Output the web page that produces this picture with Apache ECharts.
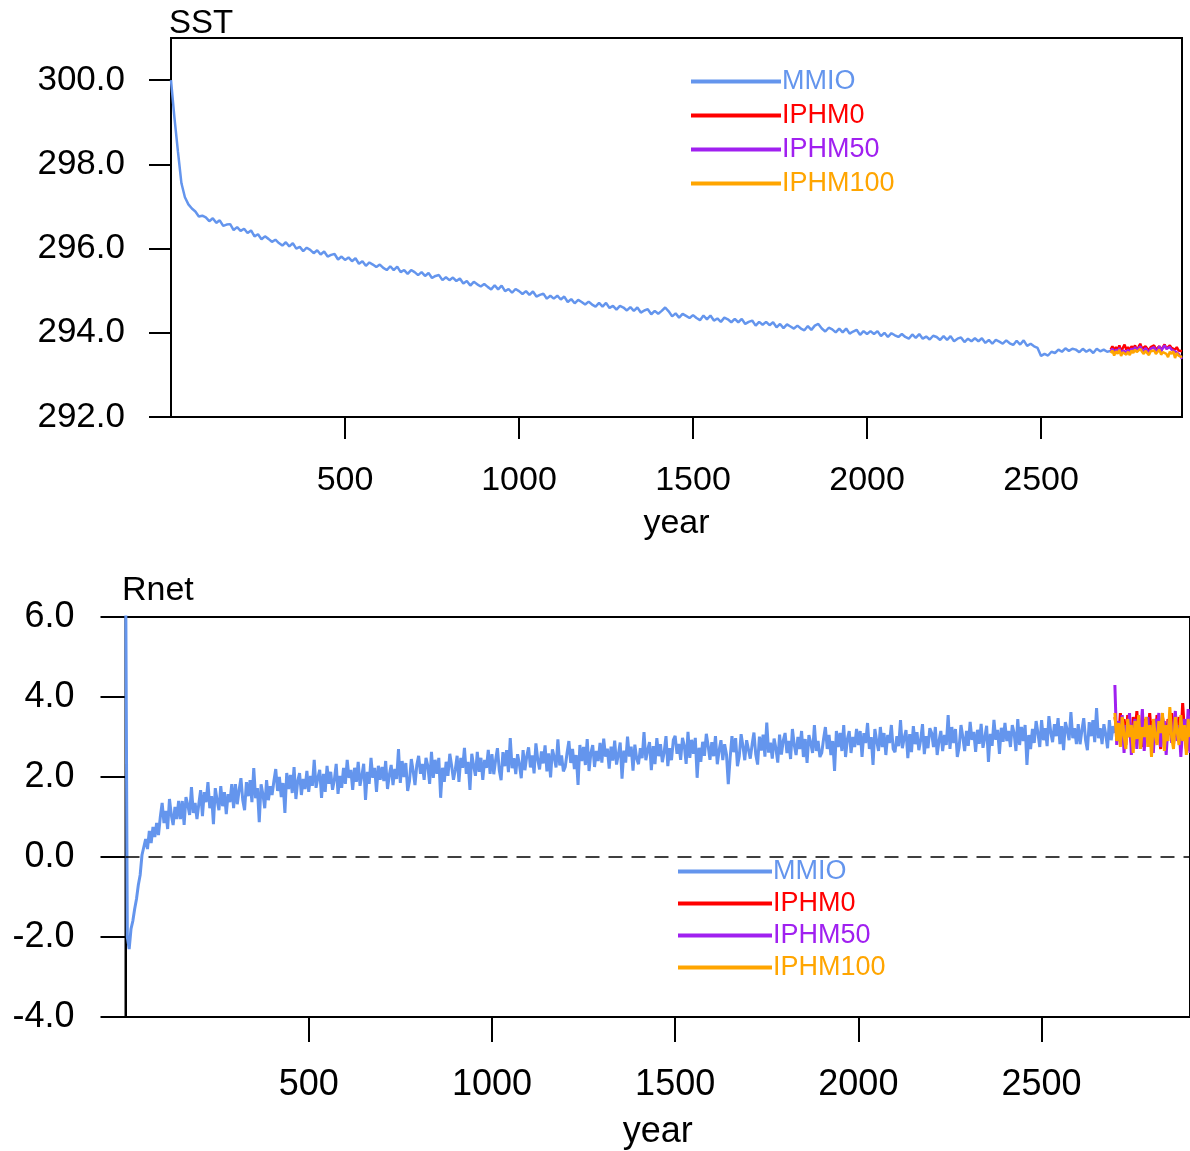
<!DOCTYPE html>
<html>
<head>
<meta charset="utf-8">
<script src="https://cdn.jsdelivr.net/npm/echarts@6/dist/echarts.min.js"></script>
<style>
html,body{margin:0;padding:0;background:#fff;}
#c{width:1190px;height:1151px;}
</style>
</head>
<body>
<div id="c"></div>
<script>
// ---------------- DATA ----------------
const seriesNames = ['MMIO', 'IPHM0', 'IPHM50', 'IPHM100'];
const yearTicks = [500, 1000, 1500, 2000, 2500];
const sstTicks = [292, 294, 296, 298, 300];
const rnetTicks = [-4, -2, 0, 2, 4, 6];

// SST, MMIO: one value every 10 years, year 0 .. 2700
const sstStep = 10;
const sstMMIO = [
300.0,299.1,298.3,297.55,297.22,297.05,296.95,296.88,296.76,296.78,
296.74,296.65,296.72,296.61,296.67,296.54,296.57,296.58,296.44,296.51,
296.42,296.47,296.37,296.43,296.29,296.34,296.22,296.29,296.23,296.16,
296.21,296.13,296.07,296.15,296.05,296.13,296.0,296.04,295.94,296.02,
295.97,295.89,295.96,295.86,295.93,295.81,295.85,295.87,295.74,295.81,
295.73,295.79,295.7,295.77,295.64,295.7,295.59,295.67,295.62,295.56,
295.62,295.54,295.49,295.58,295.49,295.57,295.44,295.49,295.4,295.49,
295.44,295.37,295.44,295.35,295.42,295.3,295.35,295.37,295.25,295.32,
295.25,295.31,295.23,295.29,295.17,295.23,295.12,295.21,295.15,295.1,
295.16,295.09,295.03,295.13,295.03,295.12,294.99,295.04,294.95,295.04,
294.99,294.92,294.99,294.9,294.98,294.86,294.9,294.93,294.81,294.88,
294.81,294.88,294.79,294.86,294.73,294.8,294.7,294.78,294.73,294.67,
294.74,294.67,294.62,294.71,294.62,294.71,294.59,294.64,294.55,294.64,
294.6,294.53,294.61,294.52,294.6,294.48,294.53,294.56,294.44,294.52,
294.45,294.52,294.6,294.51,294.39,294.46,294.36,294.45,294.4,294.35,
294.42,294.35,294.3,294.41,294.32,294.41,294.29,294.34,294.26,294.36,
294.32,294.25,294.33,294.25,294.33,294.21,294.26,294.29,294.17,294.26,
294.19,294.26,294.18,294.25,294.13,294.21,294.11,294.2,294.15,294.1,
294.17,294.1,294.06,294.16,294.07,294.17,294.21,294.1,294.03,294.12,
294.08,294.01,294.1,294.01,294.1,293.98,294.03,294.07,293.95,294.04,
293.97,294.04,293.97,294.04,293.92,294.0,293.9,293.99,293.94,293.9,
293.97,293.9,293.86,293.96,293.88,293.97,293.86,293.91,293.84,293.93,
293.9,293.83,293.92,293.83,293.92,293.8,293.86,293.89,293.78,293.86,
293.8,293.87,293.8,293.87,293.76,293.83,293.74,293.83,293.79,293.74,
293.82,293.75,293.71,293.81,293.72,293.82,293.69,293.74,293.68,293.64,
293.45,293.5,293.46,293.55,293.52,293.6,293.55,293.63,293.57,293.62,
293.6,293.54,293.62,293.55,293.6,293.52,293.62,293.56,293.6,293.55,
293.57
];

// Experiments: one value every 5 years, year 2700 .. 2905
const iphmStart = 2700;
const iphmStep = 5;
const sstIPHM0 = [293.6,293.68,293.58,293.66,293.6,293.7,293.56,293.64,293.72,293.6,293.66,293.58,293.68,293.62,293.7,293.6,293.66,293.74,293.62,293.6,293.68,293.64,293.58,293.66,293.62,293.7,293.6,293.64,293.68,293.58,293.66,293.72,293.62,293.6,293.7,293.64,293.68,293.6,293.66,293.58,293.62,293.56];
const sstIPHM50 = [293.56,293.62,293.52,293.6,293.55,293.64,293.5,293.58,293.62,293.54,293.6,293.5,293.63,293.56,293.66,293.58,293.62,293.68,293.6,293.55,293.64,293.6,293.52,293.62,293.58,293.66,293.55,293.6,293.68,293.56,293.64,293.7,293.62,293.58,293.66,293.6,293.64,293.56,293.6,293.5,293.45,293.38];
const sstIPHM100 = [293.52,293.58,293.46,293.56,293.5,293.6,293.45,293.54,293.58,293.48,293.55,293.47,293.58,293.52,293.6,293.54,293.56,293.62,293.55,293.5,293.57,293.53,293.47,293.56,293.52,293.58,293.5,293.55,293.6,293.48,293.54,293.58,293.5,293.42,293.55,293.5,293.56,293.4,293.52,293.46,293.5,293.42];

// Rnet, MMIO: one value every 5 years, year 0 .. 2700
const rnetStep = 5;
const rnetMMIO = [
8.0,-2.0,-2.3,-1.8,-1.6,-1.3,-1.05,-0.7,-0.45,0.05,0.0,0.45,0.2,0.65,0.35,0.75,0.5,0.85,0.55,1.0,
1.35,0.85,1.15,0.7,1.45,1.05,0.8,1.25,0.95,1.4,0.95,1.4,0.8,1.5,1.3,1.05,1.75,1.1,1.35,0.95,
1.32,1.67,1.02,1.62,1.37,1.87,1.22,1.52,0.82,1.72,1.42,1.17,1.77,1.27,1.62,1.07,1.57,1.37,1.82,1.22,
1.82,1.32,1.67,1.97,1.42,1.17,1.87,1.52,1.92,1.37,2.22,1.47,1.72,0.87,1.82,1.57,1.22,1.92,1.42,1.77,
1.55,1.9,2.2,1.65,2.0,1.5,1.85,1.1,2.1,1.7,2.05,1.6,2.25,1.45,1.9,2.1,1.55,1.95,1.7,2.15,
1.63,2.03,1.78,2.43,1.73,1.98,2.18,1.48,2.08,1.63,2.28,1.83,2.13,1.68,1.93,2.33,1.58,2.03,1.73,2.23,
1.83,2.43,1.98,2.18,1.68,2.23,1.88,2.38,1.78,2.03,2.33,1.43,2.13,1.83,2.48,1.98,2.23,1.63,2.28,1.93,
2.25,1.9,2.4,1.7,2.05,2.3,1.8,2.2,1.95,2.7,1.85,2.4,2.0,2.35,1.65,1.9,2.45,2.15,1.8,2.3,
2.53,2.08,2.33,1.93,2.48,2.28,1.83,2.63,1.98,2.43,2.08,2.48,1.48,2.23,1.88,2.38,2.03,2.58,2.28,1.93,
2.18,2.53,1.88,2.48,2.23,2.73,2.08,2.38,1.68,2.58,2.28,2.03,2.63,2.13,2.48,1.93,2.43,2.23,2.68,2.08,
2.57,2.07,2.42,2.72,2.17,1.92,2.62,2.27,2.67,2.12,2.97,2.22,2.47,2.07,2.57,2.32,1.97,2.67,2.17,2.52,
2.74,2.24,2.54,2.09,2.84,2.44,2.19,2.64,2.34,2.79,2.14,2.59,1.99,2.69,2.49,2.24,2.94,2.29,2.54,2.14,
2.25,2.6,2.9,2.35,2.7,2.2,2.55,1.8,2.8,2.4,2.75,2.3,2.95,2.15,2.6,2.8,2.25,2.65,2.4,2.85,
2.36,2.96,2.51,2.71,2.21,2.76,2.41,2.91,2.31,2.56,2.86,1.96,2.66,2.36,3.01,2.51,2.76,2.16,2.81,2.46,
2.32,2.72,2.47,3.12,2.42,2.67,2.87,2.17,2.77,2.32,2.97,2.52,2.82,2.37,2.62,3.02,2.27,2.72,2.42,2.92,
3.03,2.58,2.83,2.43,2.98,2.78,2.33,3.13,2.48,2.93,2.58,2.98,1.98,2.73,2.38,2.88,2.53,3.08,2.78,2.43,
2.87,2.52,3.02,2.32,2.67,2.92,2.42,2.82,2.57,1.82,2.47,3.02,2.62,2.97,2.27,2.52,3.07,2.77,2.42,2.92,
2.96,2.46,2.81,3.11,2.56,2.31,3.01,2.66,3.06,2.51,3.36,2.61,2.86,2.46,2.96,2.71,2.36,3.06,2.56,2.91,
3.1,2.6,2.9,2.45,3.2,2.8,2.55,3.0,2.7,3.15,2.5,2.95,2.35,3.05,2.85,2.6,3.3,2.65,2.9,2.5,
2.6,2.95,3.25,2.7,3.05,2.55,2.9,2.15,3.15,2.75,3.1,2.65,3.3,2.5,2.95,3.15,2.6,3.0,2.75,3.2,
2.8,3.15,2.5,3.1,2.85,3.35,2.7,3.0,2.3,3.2,2.9,2.65,3.25,2.75,3.1,2.55,3.05,2.85,3.3,2.7,
2.62,3.02,2.77,3.42,2.72,2.97,3.17,2.47,3.07,2.62,3.27,2.82,3.12,2.67,2.92,3.32,2.57,3.02,2.72,3.22,
3.1,2.75,3.25,2.55,2.9,3.15,2.65,3.05,2.8,3.55,2.7,3.25,2.85,3.2,2.5,2.75,3.3,3.0,2.65,3.15,
2.78,3.38,2.93,3.13,2.63,3.18,2.83,3.33,2.73,2.98,3.28,2.38,3.08,2.78,3.43,2.93,3.18,2.58,3.23,2.88,
3.35,2.9,3.15,2.75,3.3,3.1,2.65,3.45,2.8,3.25,2.9,3.3,2.3,3.05,2.7,3.2,2.85,3.4,3.1,2.75,
3.42,2.92,3.22,2.77,3.52,3.12,2.87,3.32,3.02,3.47,2.82,3.27,2.67,3.37,3.17,2.92,3.62,2.97,3.22,2.82,
3.32,2.82,3.17,3.47,2.92,2.67,3.37,3.02,3.42,2.87,3.72,2.97,3.22,2.82,3.32,3.07,2.72,3.42,2.92,3.27,
3.1
];
const rnetIPHM0 = [3.5,3.2,2.9,3.6,3.0,3.45,2.8,3.55,3.1,2.85,3.5,3.05,3.65,2.9,3.3,2.75,3.45,3.15,2.95,3.6,3.0,3.4,2.85,3.55,3.1,2.7,3.5,3.2,2.9,3.45,3.05,3.6,2.8,3.35,3.0,3.5,2.9,3.85,3.1,2.7,3.4,2.65];
const rnetIPHM50 = [4.3,2.8,3.4,2.9,3.55,2.6,3.3,3.0,3.6,2.55,3.25,3.45,2.7,3.35,3.05,3.7,2.65,3.2,3.5,2.8,3.3,2.6,3.45,3.1,3.6,2.75,3.2,3.4,2.55,3.3,3.5,2.85,3.25,3.65,2.9,3.3,2.5,3.2,3.45,2.85,3.7,2.6];
const rnetIPHM100 = [3.6,2.9,3.35,2.75,3.5,3.05,2.7,3.45,3.0,3.3,2.6,3.4,2.95,3.55,2.7,3.25,3.0,3.5,2.75,3.3,2.5,3.45,3.05,2.8,3.4,3.1,3.6,2.65,3.3,2.9,3.75,3.0,2.7,3.5,3.15,2.8,3.55,2.9,3.3,2.55,3.45,3.0];

// ---------------- CHART ----------------
const colors = {MMIO:'#6495ED', IPHM0:'#FF0000', IPHM50:'#A020F0', IPHM100:'#FFA500'};
const FONT = 'Liberation Sans, Arial, Helvetica, sans-serif';
const pairs = (start, step, arr) => arr.map((v, i) => [start + i * step, v]);

function xAxisFor(grid, tickLen, labelSize, labelMargin, nameGap) {
  return {
    type: 'value', gridIndex: grid, min: 0, max: 2905,
    axisLine: {show: true, onZero: false, lineStyle: {color: '#000', width: 2}},
    axisTick: {show: true, inside: false, length: tickLen, customValues: yearTicks, lineStyle: {color: '#000', width: 2}},
    axisLabel: {show: true, customValues: yearTicks, fontSize: labelSize, color: '#000', fontFamily: FONT, margin: labelMargin,
      formatter: v => String(v)},
    splitLine: {show: false},
    name: 'year', nameLocation: 'middle', nameGap: nameGap,
    nameTextStyle: {fontSize: labelSize, color: '#000', fontFamily: FONT}
  };
}
function yAxisFor(grid, min, max, ticks, tickLen, labelSize, labelMargin) {
  return {
    type: 'value', gridIndex: grid, min: min, max: max,
    axisLine: {show: true, onZero: false, lineStyle: {color: '#000', width: 2}},
    axisTick: {show: true, inside: false, length: tickLen, customValues: ticks, lineStyle: {color: '#000', width: 2}},
    axisLabel: {show: true, customValues: ticks, fontSize: labelSize, color: '#000', fontFamily: FONT, margin: labelMargin,
      formatter: v => Number(v).toFixed(1)},
    splitLine: {show: false}
  };
}
function lineSeries(name, grid, data, width, extra) {
  return Object.assign({
    name: name, type: 'line', xAxisIndex: grid, yAxisIndex: grid,
    data: data, symbol: 'none', showSymbol: false, smooth: false,
    lineStyle: {color: colors[name], width: width}, itemStyle: {color: colors[name]},
    animation: false, silent: true, z: 3
  }, extra || {});
}
function legendFor(left, top, width, gap) {
  return {
    orient: 'vertical', left: left, top: top, icon: 'rect', padding: 0,
    itemWidth: width, itemHeight: 4, itemGap: gap,
    selectedMode: false,
    textStyle: {fontSize: 27, fontFamily: FONT, lineHeight: 27, padding: [0, 0, 0, -4]},
    data: seriesNames.map(n => ({name: n, textStyle: {color: colors[n]}}))
  };
}

const chart = echarts.init(document.getElementById('c'), null, {renderer: 'canvas'});
chart.setOption({
  animation: false,
  backgroundColor: '#fff',
  title: [
    {text: 'SST', left: 169, top: 7, padding: 0, textStyle: {fontSize: 33, fontWeight: 'normal', color: '#000', fontFamily: FONT}},
    {text: 'Rnet', left: 122, top: 574, padding: 0, textStyle: {fontSize: 34, fontWeight: 'normal', color: '#000', fontFamily: FONT}}
  ],
  grid: [
    {left: 171, top: 38, width: 1011, height: 379, show: true, borderColor: '#000', borderWidth: 2, backgroundColor: 'transparent'},
    {left: 125.5, top: 617, width: 1072, height: 401, show: true, borderColor: '#000', borderWidth: 2, backgroundColor: 'transparent'}
  ],
  legend: [legendFor(691, 68, 90, 7), legendFor(678, 858, 94, 5)],
  xAxis: [xAxisFor(0, 22, 34, 47, 90), xAxisFor(1, 25, 36, 50, 97)],
  yAxis: [yAxisFor(0, 292, 301, sstTicks, 22, 35, 46), yAxisFor(1, -4, 6, rnetTicks, 25, 36, 51)],
  series: [
    lineSeries('MMIO', 0, pairs(0, sstStep, sstMMIO), 2.5),
    lineSeries('IPHM0', 0, pairs(iphmStart, iphmStep, sstIPHM0), 2.5),
    lineSeries('IPHM50', 0, pairs(iphmStart, iphmStep, sstIPHM50), 2.5),
    lineSeries('IPHM100', 0, pairs(iphmStart, iphmStep, sstIPHM100), 2.5),
    lineSeries('MMIO', 1, pairs(0, rnetStep, rnetMMIO), 3, {
      markLine: {silent: true, symbol: 'none', label: {show: false},
        lineStyle: {color: '#000', width: 1.5, type: [14, 9]},
        data: [{yAxis: 0}], animation: false}
    }),
    lineSeries('IPHM0', 1, pairs(iphmStart, iphmStep, rnetIPHM0), 3),
    lineSeries('IPHM50', 1, pairs(iphmStart, iphmStep, rnetIPHM50), 3),
    lineSeries('IPHM100', 1, pairs(iphmStart, iphmStep, rnetIPHM100), 3)
  ]
});
</script>
</body>
</html>
